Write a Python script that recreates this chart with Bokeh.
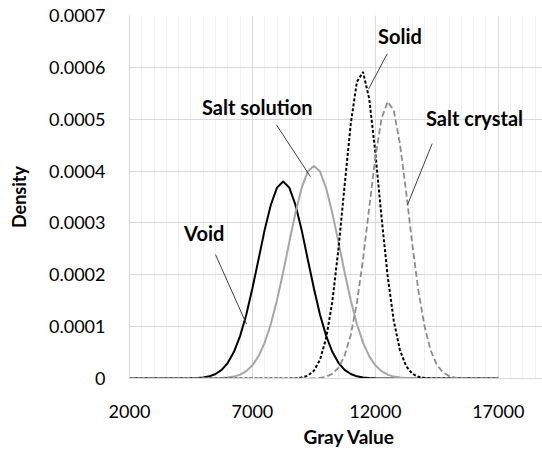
from bokeh.plotting import figure
from bokeh.models import FixedTicker, Title, ColumnDataSource
from bokeh.core.properties import value
from bokeh.embed import file_html
from bokeh.resources import INLINE

# ---- data ----
gray_value = [2000, 2250, 2500, 2750, 3000, 3250, 3500, 3750, 4000, 4250,
              4500, 4750, 5000, 5250, 5500, 5750, 6000, 6250, 6500, 6750,
              7000, 7250, 7500, 7750, 8000, 8250, 8500, 8750, 9000, 9250,
              9500, 9750, 10000, 10250, 10500, 10750, 11000, 11250, 11500, 11750,
              12000, 12250, 12500, 12750, 13000, 13250, 13500, 13750, 14000, 14250,
              14500, 14750, 15000, 15250, 15500, 15750, 16000, 16250, 16500, 16750,
              17000]

void = [0] * 10 + [3e-7, 8e-7, 1.9e-6, 4.2e-6, 8.7e-6, 1.67e-5, 3.02e-5, 5.14e-5,
                   8.22e-5, 1.23e-4, 1.74e-4, 2.30e-4, 2.87e-4, 3.35e-4, 3.68e-4,
                   3.80e-4, 3.68e-4, 3.35e-4, 2.87e-4, 2.30e-4, 1.74e-4, 1.23e-4,
                   8.22e-5, 5.14e-5, 3.02e-5, 1.67e-5, 8.7e-6, 4.2e-6, 1.9e-6,
                   8e-7, 3e-7] + [0] * 20

salt_solution = [0] * 14 + [3e-7, 8e-7, 1.8e-6, 3.7e-6, 7.5e-6, 1.42e-5, 2.54e-5,
                            4.31e-5, 6.91e-5, 1.05e-4, 1.51e-4, 2.05e-4, 2.63e-4,
                            3.19e-4, 3.67e-4, 3.99e-4, 4.10e-4, 3.99e-4, 3.67e-4,
                            3.19e-4, 2.63e-4, 2.05e-4, 1.51e-4, 1.05e-4, 6.91e-5,
                            4.31e-5, 2.54e-5, 1.42e-5, 7.5e-6, 3.7e-6, 1.8e-6,
                            8e-7, 3e-7] + [0] * 14

solid = [0] * 26 + [1e-7, 5e-7, 1.8e-6, 5.4e-6, 1.49e-5, 3.63e-5, 7.80e-5, 1.48e-4,
                    2.50e-4, 3.72e-4, 4.91e-4, 5.72e-4, 5.91e-4, 5.40e-4, 4.36e-4,
                    3.12e-4, 1.98e-4, 1.11e-4, 5.49e-5, 2.41e-5, 9.3e-6, 3.2e-6,
                    1.0e-6, 3e-7] + [0] * 11

salt_crystal = [0] * 29 + [1e-7, 4e-7, 1.2e-6, 3.5e-6, 8.9e-6, 2.07e-5, 4.38e-5,
                           8.39e-5, 1.46e-4, 2.30e-4, 3.29e-4, 4.26e-4, 5.01e-4,
                           5.34e-4, 5.17e-4, 4.53e-4, 3.61e-4, 2.60e-4, 1.70e-4,
                           1.01e-4, 5.45e-5, 2.66e-5, 1.18e-5, 4.7e-6, 1.7e-6,
                           6e-7, 2e-7] + [0] * 5

x_ticks = [2000, 7000, 12000, 17000]
y_ticks = [0, 0.0001, 0.0002, 0.0003, 0.0004, 0.0005, 0.0006, 0.0007]
y_tick_labels = ["0", "0.0001", "0.0002", "0.0003", "0.0004", "0.0005", "0.0006", "0.0007"]

# annotation labels and leader lines (data coordinates)
label_names = ["Void", "Salt solution", "Solid", "Salt crystal"]
label_x = [5039, 7195, 13004, 16034]
label_y = [0.000281, 0.000523, 0.000661, 0.000503]
leader_x0 = [5498, 7980, 12483, 14313]
leader_y0 = [0.000239, 0.000489, 0.000626, 0.000453]
leader_x1 = [6759, 9363, 11722, 13309]
leader_y1 = [0.000105, 0.000389, 0.000558, 0.000335]

FONT = "Lato"

p = figure(width=542, height=452, output_backend="svg", toolbar_location=None,
           x_range=(2000, 18800), y_range=(0, 0.0007),
           min_border_left=129, min_border_right=0, min_border_top=15,
           min_border_bottom=74)
p.outline_line_color = None
p.background_fill_color = "white"
p.border_fill_color = "white"

# grids
p.xaxis.ticker = FixedTicker(ticks=x_ticks, minor_ticks=list(range(2000, 18801, 500)))
p.yaxis.ticker = FixedTicker(ticks=y_ticks)
p.xgrid.grid_line_color = "#d9d9d9"
p.xgrid.minor_grid_line_color = "#f0f0f0"
p.ygrid.grid_line_color = "#d9d9d9"

for ax in (p.xaxis, p.yaxis):
    ax.axis_line_color = "#d9d9d9"
    ax.major_tick_line_color = None
    ax.minor_tick_line_color = None
    ax.major_label_text_font = FONT
    ax.major_label_text_font_size = "18px"
    ax.major_label_text_color = "black"
    ax.major_label_standoff = 18

p.yaxis.major_label_overrides = {t: s for t, s in zip(y_ticks, y_tick_labels)}
p.xaxis.major_label_overrides = {t: str(t) for t in x_ticks}
p.xaxis.major_label_standoff = 20

p.yaxis.axis_label = "Density"
p.yaxis.axis_label_text_font = FONT
p.yaxis.axis_label_text_font_style = "bold"
p.yaxis.axis_label_text_font_size = "18px"
p.yaxis.axis_label_text_color = "black"
p.yaxis.axis_label_standoff = 16

# curves
src = ColumnDataSource(dict(x=gray_value, void=void, salt_solution=salt_solution,
                            solid=solid, salt_crystal=salt_crystal))
p.line("x", "void", source=src, line_color="black", line_width=2)
p.line("x", "salt_solution", source=src, line_color="#a6a6a6", line_width=2)
p.line("x", "solid", source=src, line_color="black", line_width=2, line_dash="3 2")
p.line("x", "salt_crystal", source=src, line_color="#8c8c8c", line_width=1.8, line_dash="6 3")

# leader lines
p.segment(x0=leader_x0, y0=leader_y0, x1=leader_x1, y1=leader_y1,
          line_color="#404040", line_width=1)

# labels
p.text(x=label_x, y=label_y, text=label_names, text_font=value(FONT),
       text_font_style="bold", text_font_size="20px", text_color="black",
       text_align="center", text_baseline="middle")

# x axis title (offset to the right, as in the reference)
p.add_layout(Title(text="Gray Value", align="left", offset=174, text_font=FONT,
                   text_font_style="bold", text_font_size="19px", text_color="black",
                   standoff=4), "below")

open("out.html", "w").write(file_html(p, INLINE))
